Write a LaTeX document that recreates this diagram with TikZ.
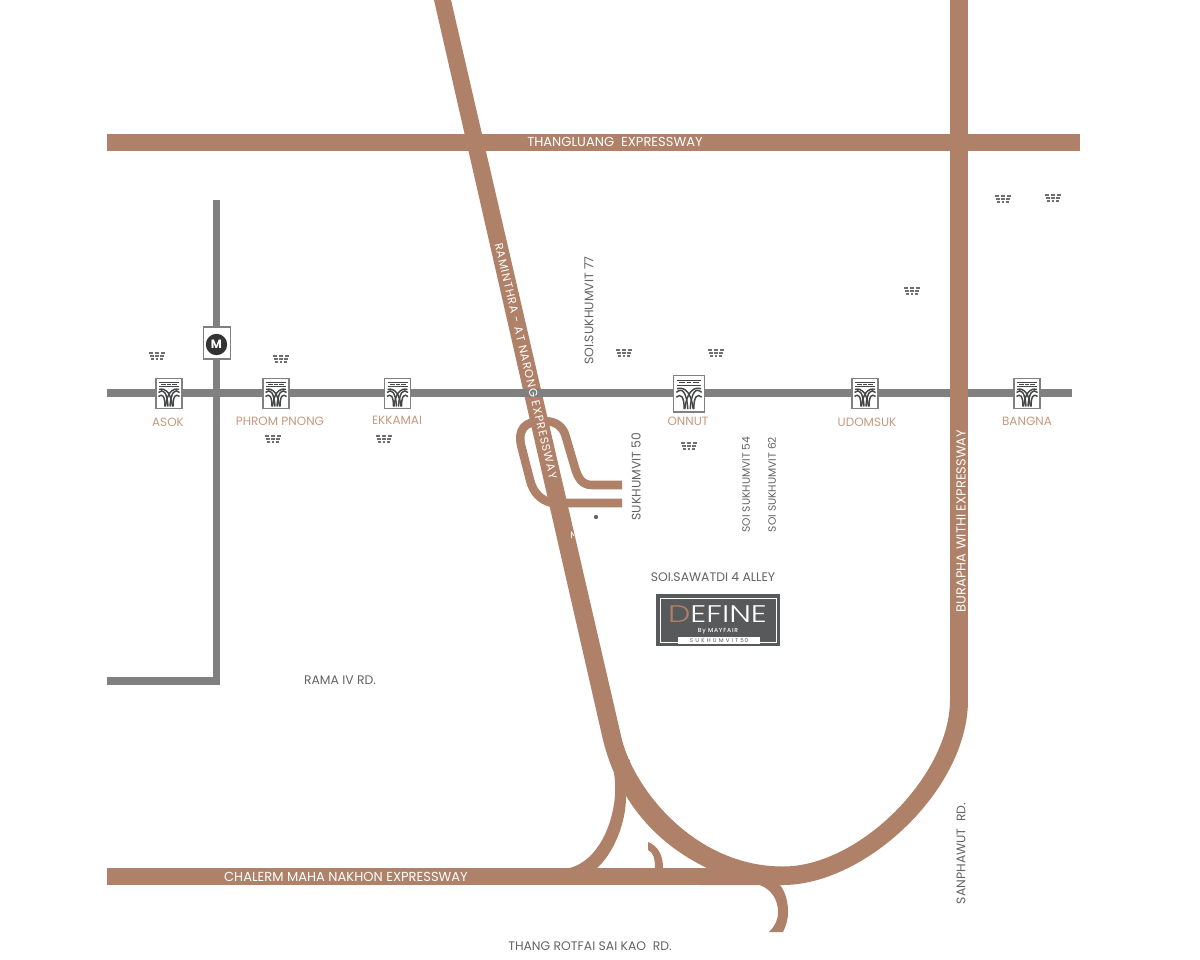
\documentclass[tikz,border=0pt]{standalone}
\usepackage{fontspec}
\setmainfont{Poppins}
\newfontfamily\lightfont[UprightFont=* Light]{Poppins}
\newfontfamily\logoby[LetterSpace=14]{Poppins Medium}
\newfontfamily\logosubf[LetterSpace=12]{Poppins}
\newfontfamily\spacedfont[LetterSpace=8]{Poppins}
\definecolor{road}{HTML}{AE8168}
\definecolor{rail}{HTML}{808080}
\definecolor{ink}{HTML}{636466}
\definecolor{tan}{HTML}{C49A80}
\definecolor{logo}{HTML}{58595B}
\definecolor{dashgrey}{HTML}{6E6F71}
\tikzset{
  roadline/.style={draw=road,line width=12.75pt,line cap=butt},
  ramp/.style={draw=road,line width=6.4pt,line cap=butt},
  railline/.style={draw=rail,line width=5.8pt},
  lab/.style={font=\fontsize{9.3pt}{10pt}\selectfont,text=ink,inner sep=0pt},
  stn/.style={font=\fontsize{9pt}{10pt}\selectfont,text=tan,inner sep=0pt},
  wlab/.style={font=\fontsize{9.8pt}{10pt}\selectfont,text=white,inner sep=0pt},
  btsicon/.pic={
    \node[draw=rail,fill=white,line width=0.9pt,minimum width=19.5pt,minimum height=23pt,inner sep=0pt] at (0,0) {};
    \begin{scope}[draw=ink!70!black,line width=1.1pt]
      \draw[line width=0.7pt] (-10,-11) -- (10,-11) (-10,-7) -- (10,-7);
      \draw[line width=0.8pt] (-8,-9) -- (-3,-9) (-2,-9) -- (2,-9) (3,-9) -- (8,-9);
      \draw (-10.5,-1) .. controls (-6,-5) and (-2,-2) .. (-1,13);
      \draw (10.5,-1) .. controls (6,-5) and (2,-2) .. (1,13);
      \draw (-10.5,3) .. controls (-7,0) and (-4,2) .. (-4,13);
      \draw (10.5,3) .. controls (7,0) and (4,2) .. (4,13);
      \draw (-10,-4) .. controls (-3,-6) and (2,0) .. (3.5,13);
      \draw (10,-4) .. controls (3,-6) and (-2,0) .. (-3.5,13);
    \end{scope}
  },
  bldg/.pic={
    \foreach \yy/\hw/\on in {-3.4/8.4/3.6,0/7/2.9,3.4/5.6/2.2}{
      \draw[dashgrey,line width=1.5pt,dash pattern=on \on pt off 0.9pt] (-\hw,\yy) -- (\hw,\yy);
    }
  }
}
\begin{document}
\begin{tikzpicture}[x=0.75pt,y=-0.75pt]
\useasboundingbox (0,0) rectangle (1200,960);
\fill[white] (0,0) rectangle (1200,960);
% expressways
\draw[roadline] (107,142) -- (1080,142);
\draw[roadline] (107,876.5) -- (785,876.5);
\fill[road] (434,0) -- (451,0) -- (622,740) -- (603,740) -- cycle;
\fill[road] (622,740) .. controls (635,790) and (695,866.5) .. (783,866.5)
  .. controls (860,866.5) and (950,775) .. (950,700)
  -- (968,700) .. controls (968,790) and (865,885) .. (783,885)
  -- (700,885) -- (707,868) .. controls (655,843) and (618,800) .. (603,740) -- cycle;
% ramps
\fill[road] (609,750) .. controls (614,765) and (616,785) .. (615,795) .. controls (613,825) and (598,860) .. (570,868)
  -- (570,875) -- (597,875) -- (597,868) .. controls (612,855) and (626,825) .. (626,797) -- (630,760) -- cycle;
\fill[road] (648,842) -- (648,850) .. controls (653,852) and (655,858) .. (655,868) -- (663,868)
  .. controls (663,855) and (658,846) .. (648,842) -- cycle;
\fill[road] (760,885) -- (780,885) .. controls (786,893) and (788,902) .. (788,912)
  .. controls (788,920) and (786,926) .. (783,932) -- (769,932)
  .. controls (775,926) and (778,920) .. (778,912) .. controls (778,900) and (772,890) .. (760,885) -- cycle;
% interchange
\draw[ramp] (622,485) -- (592,485) .. controls (582,485) and (578,478) .. (575,468)
  -- (565,434) .. controls (561,424) and (553,421) .. (543,421)
  .. controls (524,421) and (518,430) .. (521,445)
  -- (530,480) .. controls (533,492) and (540,500) .. (552,503) -- (622,503);
% rail
\draw[railline] (107,393) -- (1072,393);
\draw[railline] (216.5,200) -- (216.5,681) -- (107,681);
\fill[road] (950,0) rectangle (968,700);
% station icons
\pic at (169,393.5) {btsicon};
\pic at (276,393.5) {btsicon};
\pic at (397.5,393.5) {btsicon};
\pic[scale=1.2,transform shape] at (689,393.5) {btsicon};
\pic at (865,393.5) {btsicon};
\pic at (1027,393.5) {btsicon};
% metro
\node[draw=rail,fill=white,line width=0.8pt,minimum width=20.5pt,minimum height=24pt,inner sep=0pt] (mrtbox) at (217,343) {};
\node[circle,fill=black!80,minimum size=16pt,inner sep=0pt,text=white,font=\bfseries\fontsize{9pt}{9pt}\selectfont] (mrt) at (216.5,344.5) {M};
% buildings
\foreach \px/\py in {157/356,281/359,273/439,384/439,624/353,716/353,689/446,1003/199,1053/198,912/291}{
  \pic at (\px,\py) {bldg};
}
% labels
\node[wlab] (l1) at (615,142) {THANGLUANG\ \ EXPRESSWAY};
\node[wlab] (l2) at (346,876.5) {CHALERM MAHA NAKHON EXPRESSWAY};
\node[wlab,rotate=-76.9,font=\spacedfont\fontsize{8.6pt}{10pt}\selectfont] (l3) at (526,361) {RAMINTHRA - AT NARONG EXPRESSWAY};
\node[wlab,rotate=90] (l4) at (961,521) {BURAPHA WITHI EXPRESSWAY};
\node[lab,rotate=90] (l5) at (961,853.5) {SANPHAWUT\ \ RD.};
\node[lab] (l6) at (590,946) {THANG ROTFAI SAI KAO\ \ RD.};
\node[lab] (l7) at (340,680) {RAMA IV RD.};
\node[lab] (l8) at (713,577) {SOI.SAWATDI 4 ALLEY};
\node[lab,rotate=90] (l9) at (589,310.5) {SOI.SUKHUMVIT 77};
\node[lab,rotate=90] (l10) at (636,476.5) {SUKHUMVIT 50};
\node[lab,rotate=90,font=\fontsize{8pt}{9pt}\selectfont] (l11) at (746,484.5) {SOI SUKHUMVIT 54};
\node[lab,rotate=90,font=\fontsize{8pt}{9pt}\selectfont] (l12) at (772,484.5) {SOI SUKHUMVIT 62};
\node[stn] (s1) at (168,422) {ASOK};
\node[stn] (s2) at (280,421) {PHROM PNONG};
\node[stn] (s3) at (397,420) {EKKAMAI};
\node[stn] (s4) at (688,421) {ONNUT};
\node[stn] (s5) at (867,422) {UDOMSUK};
\node[stn] (s6) at (1027,421) {BANGNA};
% dot and stray mark
\fill[ink] (596,517) circle (1.6pt);
\draw[white,line width=0.5pt] (571.5,538) -- (571.5,532) -- (574,536);
% logo
\fill[logo] (656,594) rectangle (780,646);
\draw[white,line width=0.6pt] (678,642) -- (660,642) -- (660,598) -- (776,598) -- (776,642) -- (757,642);
\fill[white] (678,637) rectangle (760,644);
\node[inner sep=0pt,text=white,font=\lightfont\fontsize{18pt}{18pt}\selectfont,xscale=1.32] (logoname) at (717.5,614.5) {\textcolor{road}{D}EFINE};
\node[inner sep=0pt,text=white,font=\logoby\fontsize{4.4pt}{4.4pt}\selectfont] (logobyline) at (718,631) {By MAYFAIR};
\node[inner sep=0pt,text=logo,font=\logosubf\fontsize{4.2pt}{4pt}\selectfont] (logosub) at (719,640.5) {S U K H U M V I T 50};
\end{tikzpicture}
\end{document}
